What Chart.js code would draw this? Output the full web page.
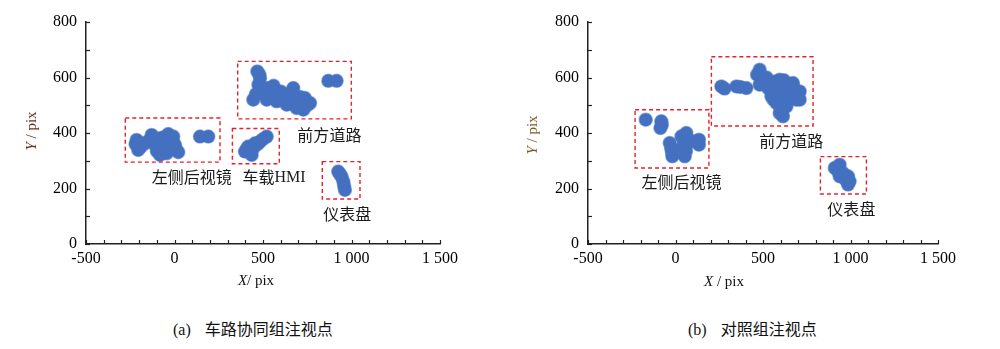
<!DOCTYPE html>
<html>
<head>
<meta charset="utf-8">
<script src="https://cdn.jsdelivr.net/npm/chart.js@4"></script>
<style>
  html, body { margin: 0; padding: 0; background: #fff; }
  #wrap { position: relative; width: 1000px; height: 349px; overflow: hidden; }
  .cv { position: absolute; top: 0; width: 500px; height: 300px; }
  .cap { position: absolute; top: 317px; font-size: 16px; line-height: 22px; color: #111; white-space: nowrap; }
  .cap .lab { font-family: "Liberation Serif", "Times New Roman", serif; }
  .cap .zh { font-family: "Noto Sans CJK SC", sans-serif; font-size: 16px; }
</style>
</head>
<body>
<div id="wrap">
  <div class="cv" style="left:0"><canvas id="cA" width="500" height="300"></canvas></div>
  <div class="cv" style="left:500px"><canvas id="cB" width="500" height="300"></canvas></div>
  <div class="cap" style="left:173px"><span class="lab">(a)</span><span class="zh" style="margin-left:14px">车路协同组注视点</span></div>
  <div class="cap" style="left:688px"><span class="lab">(b)</span><span class="zh" style="margin-left:14px">对照组注视点</span></div>
</div>
<script>
// ---------- data (pixel coordinates of gaze points) ----------
// (a) 车路协同组
const aMirrorX = [-214,-205,-167,-129,-120,-82,-72,-35,-25,-44,3,21,-82,-7,144,191,-190,-150,-100,-60,-55,-10,-30,10,-100,-220];
const aMirrorY = [375,339,363,393,363,381,345,396,369,327,357,331,321,387,387,387,350,370,375,385,350,370,340,340,335,360];
const aHmiX = [398,417,436,455,483,521,427,445,470,500,410];
const aHmiY = [333,351,321,363,369,387,339,345,360,378,345];
const aRoadX = [468,483,474,445,502,521,558,577,615,671,653,690,737,766,728,634,521,869,916,490,510,540,545,590,600,640,660,700,710,750,680,460,480,560];
const aRoadY = [622,598,574,520,550,520,550,514,538,562,520,490,526,508,484,502,562,588,588,560,540,560,530,530,550,540,545,510,530,500,500,540,610,570];
const aDashX = [925,944,954,963,935,958];
const aDashY = [261,243,225,195,252,210];
// (b) 对照组
const bMirrorX = [-170,-81,-86,-33,-18,34,62,43,53,71,134,134,-14,-78,-25,48,60,100,-20];
const bMirrorY = [448,442,418,364,316,388,400,352,316,370,376,358,340,430,345,370,335,370,330];
const bRoadX = [262,280,348,405,481,466,500,481,529,567,595,548,577,595,614,634,634,671,691,710,653,710,370,520,540,560,580,600,620,600,610,650,680,700,690,560,620];
const bRoadY = [568,560,568,562,628,610,592,574,562,586,592,532,508,472,460,496,532,580,544,520,556,550,566,600,570,550,540,560,520,500,480,530,560,540,520,520,590];
const bDashX = [910,938,957,986,995,986,938,925,960,975];
const bDashY = [274,286,256,244,226,214,244,265,240,230];

// region boxes [xMin, xMax, yMin, yMax] and labels [x, y, text] in data units
const aBoxes = [[-278,257,295,454],[327,592,289,416],[357,999,451,658],[835,1048,162,297]];
const aLabels = [[97,243,'左侧后视镜'],[562,243,'车载HMI'],[875,393,'前方道路'],[976,107,'仪表盘']];
const bBoxes = [[-231,191,274,484],[205,786,425,675],[828,1091,180,315]];
const bLabels = [[34,222,'左侧后视镜'],[662,372,'前方道路'],[1005,127,'仪表盘']];

const xTickValues = [-500,0,500,1000,1500];
const yTickValues = [0,200,400,600,800];

function pts(xs, ys) { return xs.map((x, i) => ({x: x, y: ys[i]})); }
function fmt(v) { return v >= 1000 ? String(v).replace(/(\d)(\d{3})$/, '$1 $2') : String(v); }

const SERIF = '"Liberation Serif", "Times New Roman", serif';
const CJK = '"Noto Sans CJK SC", sans-serif';

function makeChart(id, groups, boxes, labels, cfg) {
  const extras = {
    id: 'extras',
    afterDatasetsDraw(chart) {
      const ctx = chart.ctx, xs = chart.scales.x, ys = chart.scales.y, ca = chart.chartArea;
      ctx.save();
      // inward tick marks
      ctx.strokeStyle = '#222'; ctx.lineWidth = 1.2;
      xs.ticks.forEach(t => {
        const p = Math.round(xs.getPixelForValue(t.value)) + 0.5;
        ctx.beginPath(); ctx.moveTo(p, ca.bottom); ctx.lineTo(p, ca.bottom - 4); ctx.stroke();
      });
      ys.ticks.forEach(t => {
        const p = Math.round(ys.getPixelForValue(t.value)) + 0.5;
        ctx.beginPath(); ctx.moveTo(ca.left, p); ctx.lineTo(ca.left + 4, p); ctx.stroke();
      });
      // dashed region boxes
      ctx.strokeStyle = '#e8202a'; ctx.lineWidth = 1.4; ctx.setLineDash([4, 3]);
      boxes.forEach(b => {
        const x1 = xs.getPixelForValue(b[0]), x2 = xs.getPixelForValue(b[1]);
        const y1 = ys.getPixelForValue(b[3]), y2 = ys.getPixelForValue(b[2]);
        ctx.strokeRect(x1, y1, x2 - x1, y2 - y1);
      });
      ctx.setLineDash([]);
      // region labels
      ctx.fillStyle = '#1a1a1a'; ctx.textBaseline = 'middle';
      labels.forEach(l => {
        const t = l[2];
        const m = t.match(/^([^A-Za-z]*)([A-Za-z]*)$/);
        const zh = m ? m[1] : t, en = m ? m[2] : '';
        ctx.font = '16px ' + CJK;
        const wz = ctx.measureText(zh).width;
        ctx.font = '16px ' + SERIF;
        const we = ctx.measureText(en).width;
        const x0 = xs.getPixelForValue(l[0]) - (wz + we) / 2;
        const y = ys.getPixelForValue(l[1]);
        ctx.textAlign = 'left';
        ctx.font = '16px ' + CJK; ctx.fillText(zh, x0, y);
        ctx.font = '16px ' + SERIF; ctx.fillText(en, x0 + wz, y + 1);
      });
      // X title
      ctx.fillStyle = '#111';
      ctx.font = 'italic 15px ' + SERIF;
      const wX = ctx.measureText('X').width;
      ctx.font = '15px ' + SERIF;
      const wR = ctx.measureText(cfg.xRest).width;
      const xx = cfg.xTitle[0] - (wX + wR) / 2;
      ctx.textAlign = 'left';
      ctx.font = 'italic 15px ' + SERIF; ctx.fillText('X', xx, cfg.xTitle[1]);
      ctx.font = '15px ' + SERIF; ctx.fillText(cfg.xRest, xx + wX, cfg.xTitle[1]);
      // Y title (rotated)
      ctx.translate(cfg.yTitle[0], cfg.yTitle[1]);
      ctx.rotate(-Math.PI / 2);
      ctx.fillStyle = cfg.yColor;
      ctx.font = 'italic 15px ' + SERIF;
      const wY = ctx.measureText('Y').width;
      ctx.font = '15px ' + SERIF;
      const wYr = ctx.measureText(' / pix').width;
      const yy = -(wY + wYr) / 2;
      ctx.font = 'italic 15px ' + SERIF; ctx.fillText('Y', yy, 0);
      ctx.font = '15px ' + SERIF; ctx.fillText(' / pix', yy + wY, 0);
      ctx.restore();
    }
  };
  return new Chart(document.getElementById(id), {
    type: 'scatter',
    data: {
      datasets: groups.map(g => ({
        label: g.name,
        data: pts(g.x, g.y),
        backgroundColor: '#4470BF',
        borderColor: 'rgba(68,114,196,0.55)',
        borderWidth: 1.5,
        pointRadius: 6.5,
        pointHoverRadius: 6.5
      }))
    },
    options: {
      responsive: false,
      animation: false,
      events: [],
      layout: { padding: { left: 0, right: cfg.padRight, top: 22, bottom: 0 } },
      plugins: { legend: { display: false }, tooltip: { enabled: false } },
      scales: {
        x: {
          type: 'linear', min: -500, max: 1500,
          afterFit(s) { s.height = 56; },
          afterBuildTicks(s) { s.ticks = []; for (let v = -500; v <= 1500; v += 100) s.ticks.push({value: v}); },
          ticks: {
            autoSkip: false, maxRotation: 0, padding: 5,
            color: '#000', font: { family: SERIF, size: 16 },
            callback: v => xTickValues.includes(v) ? fmt(v) : ''
          },
          grid: { display: true, drawOnChartArea: false, drawTicks: false },
          border: { display: true, color: '#222', width: 1.5 }
        },
        y: {
          type: 'linear', min: 0, max: 800,
          afterFit(s) { s.width = cfg.left; },
          afterBuildTicks(s) { s.ticks = []; for (let v = 0; v <= 800; v += 100) s.ticks.push({value: v}); },
          ticks: {
            autoSkip: false, padding: 9,
            color: '#000', font: { family: SERIF, size: 16 },
            callback: v => yTickValues.includes(v) ? String(v) : ''
          },
          grid: { display: true, drawOnChartArea: false, drawTicks: false },
          border: { display: true, color: '#222', width: 1.5 }
        }
      }
    },
    plugins: [extras]
  });
}

makeChart('cA', [
  {name: '左侧后视镜', x: aMirrorX, y: aMirrorY},
  {name: '车载HMI', x: aHmiX, y: aHmiY},
  {name: '前方道路', x: aRoadX, y: aRoadY},
  {name: '仪表盘', x: aDashX, y: aDashY}
], aBoxes, aLabels, {left: 86, padRight: 60, xTitle: [256, 281], xRest: '/ pix', yTitle: [32, 131], yColor: '#6e2e22'});

makeChart('cB', [
  {name: '左侧后视镜', x: bMirrorX, y: bMirrorY},
  {name: '前方道路', x: bRoadX, y: bRoadY},
  {name: '仪表盘', x: bDashX, y: bDashY}
], bBoxes, bLabels, {left: 88, padRight: 62, xTitle: [224, 282], xRest: ' / pix', yTitle: [33, 135], yColor: '#7e5e22'});
</script>
</body>
</html>
